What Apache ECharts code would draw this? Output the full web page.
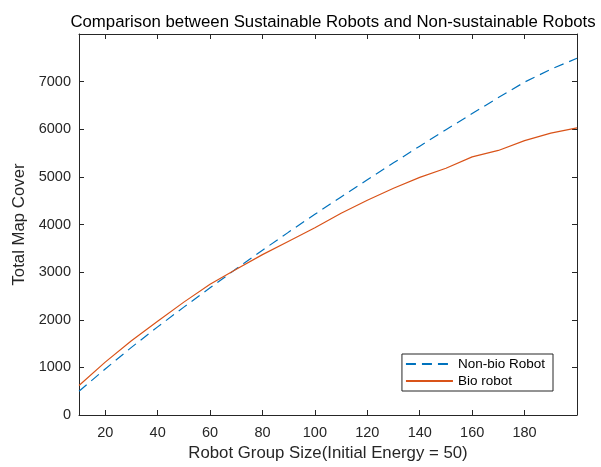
<!DOCTYPE html>
<html>
<head>
<meta charset="utf-8">
<script src="https://cdn.jsdelivr.net/npm/echarts@6/dist/echarts.min.js"></script>
<style>html,body{margin:0;padding:0;background:#fff}#c{width:601px;height:467px}</style>
</head>
<body>
<div id="c"></div>
<script>
var groupSizes = [10,20,30,40,50,60,70,80,90,100,110,120,130,140,150,160,170,180,190,200];
var nonBio = [500,965,1420,1850,2265,2670,3070,3460,3840,4215,4580,4940,5295,5645,5990,6330,6665,6990,7260,7490];
var bio = [620,1110,1560,1967,2370,2746,3060,3367,3650,3930,4235,4510,4760,4990,5180,5420,5555,5760,5920,6030];
var xTicks = [20,40,60,80,100,120,140,160,180];
var yTicks = [0,1000,2000,3000,4000,5000,6000,7000];
var seriesNames = ['Non-bio Robot','Bio robot'];

var font = "'Liberation Sans', Arial, Helvetica, sans-serif";
var axisCol = '#262626';
function pairs(xs, ys){ return xs.map(function(x,i){ return [x, ys[i]]; }); }
function plain(v){ return String(v); }

var chart = echarts.init(document.getElementById('c'), null, {renderer:'canvas'});
chart.setOption({
  animation:false,
  backgroundColor:'#fff',
  textStyle:{fontFamily:font},
  title:{
    text:'Comparison between Sustainable Robots and Non-sustainable Robots',
    left:328, top:9, textAlign:'center',
    textStyle:{fontFamily:font, fontSize:16.8, fontWeight:'normal', color:'#000'}
  },
  grid:{left:79, right:24, top:34, bottom:48, show:false},
  legend:{
    orient:'vertical', right:48, bottom:76,
    data:seriesNames,
    itemWidth:47, itemHeight:10, itemGap:3,
    padding:[3,8,3,3],
    itemStyle:{opacity:0},
    borderColor:'#262626', borderWidth:1, backgroundColor:'#fff',
    textStyle:{fontFamily:font, fontSize:13.5, color:'#000'}
  },
  xAxis:[{
    type:'value', min:10, max:200,
    name:'Robot Group Size(Initial Energy = 50)', nameLocation:'middle', nameGap:30,
    nameTextStyle:{fontFamily:font, fontSize:16.8, color:axisCol},
    axisLine:{show:true, onZero:false, lineStyle:{color:axisCol, width:1}},
    axisTick:{show:true, inside:true, length:5, customValues:xTicks, lineStyle:{color:axisCol}},
    axisLabel:{customValues:xTicks, formatter:plain, fontFamily:font, fontSize:14.5, color:axisCol, margin:10},
    splitLine:{show:false}
  },{
    type:'value', min:10, max:200, position:'top',
    axisLine:{show:true, onZero:false, lineStyle:{color:axisCol, width:1}},
    axisTick:{show:true, inside:true, length:5, customValues:xTicks, lineStyle:{color:axisCol}},
    axisLabel:{show:false}, splitLine:{show:false}
  }],
  yAxis:[{
    type:'value', min:0, max:8000,
    name:'Total Map Cover', nameLocation:'middle', nameGap:44,
    nameTextStyle:{fontFamily:font, fontSize:16.8, color:axisCol},
    axisLine:{show:true, onZero:false, lineStyle:{color:axisCol, width:1}},
    axisTick:{show:true, inside:true, length:5, customValues:yTicks, lineStyle:{color:axisCol}},
    axisLabel:{customValues:yTicks, formatter:plain, fontFamily:font, fontSize:14.5, color:axisCol, margin:8},
    splitLine:{show:false}
  },{
    type:'value', min:0, max:8000, position:'right',
    axisLine:{show:true, onZero:false, lineStyle:{color:axisCol, width:1}},
    axisTick:{show:true, inside:true, length:5, customValues:yTicks, lineStyle:{color:axisCol}},
    axisLabel:{show:false}, splitLine:{show:false}
  }],
  series:[{
    name:seriesNames[0], type:'line', symbol:'none', data:pairs(groupSizes, nonBio),
    lineStyle:{color:'#0072BD', width:1.2, type:[10,6]}, itemStyle:{color:'#0072BD'}
  },{
    name:seriesNames[1], type:'line', symbol:'none', data:pairs(groupSizes, bio),
    lineStyle:{color:'#D95319', width:1.2, type:'solid'}, itemStyle:{color:'#D95319'}
  }]
});
</script>
</body>
</html>
